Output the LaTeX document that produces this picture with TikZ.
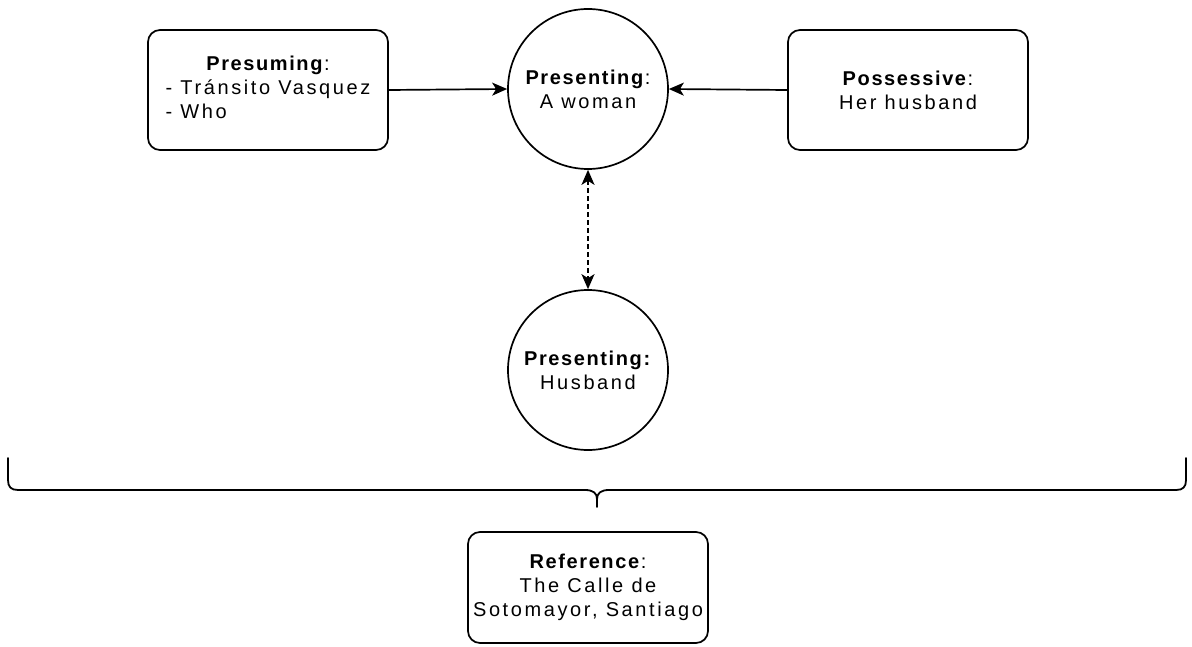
\documentclass[tikz,border=0pt]{standalone}
\usepackage{fontspec}
\setmainfont{Liberation Sans}[LetterSpace=13, BoldFeatures={LetterSpace=8}]
\usetikzlibrary{arrows.meta}
\begin{document}
\begin{tikzpicture}[x=1pt,y=-1pt,
  every node/.style={font=\fontsize{20}{24}\selectfont, align=center, inner sep=0pt},
  rbox/.style={draw, line width=1.7pt, rounded corners=12pt, minimum width=240pt, minimum height=120pt},
  circ/.style={draw, circle, line width=1.7pt, minimum size=160pt},
  link/.style={line width=1.7pt, -{Stealth[length=15pt,width=13pt,inset=4pt]}},
  dlink/.style={line width=1.7pt, dash pattern=on 5pt off 3pt,
    {Stealth[length=15pt,width=13pt,inset=4pt]}-{Stealth[length=15pt,width=13pt,inset=4pt]}},
  brace/.style={line width=1.8pt, line cap=round, line join=round}]
  \useasboundingbox (0,0) rectangle (1192,647);

  % upper row
  \node[rbox] (presuming) at (268,90) {\begin{tabular}{@{}l@{}}\multicolumn{1}{@{}c@{}}{\textbf{Presuming}:}\\- Tránsito Vasquez\\- Who\end{tabular}};
  \node[circ] (woman) at (588,89) {\textbf{Presenting}:\\A woman};
  \node[rbox] (possessive) at (908,90) {\textbf{Possessive}:\\Her husband};

  % lower circle
  \node[circ] (husband) at (588,370) {\textbf{Presenting:}\\Husband};

  % reference box
  \node[rbox, minimum height=111pt] (reference) at (588,587.5) {\textbf{Reference}:\\The Calle de\\Sotomayor, Santiago};

  % connectors
  \draw[link] (presuming.east) -- (woman.west);
  \draw[link] (possessive.west) -- (woman.east);
  \draw[dlink] (woman.south) -- (husband.north);

  % curly brace over the whole row
  \coordinate (bl) at (8,458);
  \coordinate (br) at (1186,458);
  \coordinate (bracetip) at (597,507);
  \draw[brace] (bl) -- (8,480) .. controls (8,487) and (11,490) .. (18,490)
    -- (585,490) .. controls (593,490) and (597,493) .. (597,499)
    .. controls (597,493) and (601,490) .. (609,490)
    -- (1176,490) .. controls (1183,490) and (1186,487) .. (1186,480) -- (br);
  \draw[brace] (597,499) -- (bracetip);
\end{tikzpicture}
\end{document}
